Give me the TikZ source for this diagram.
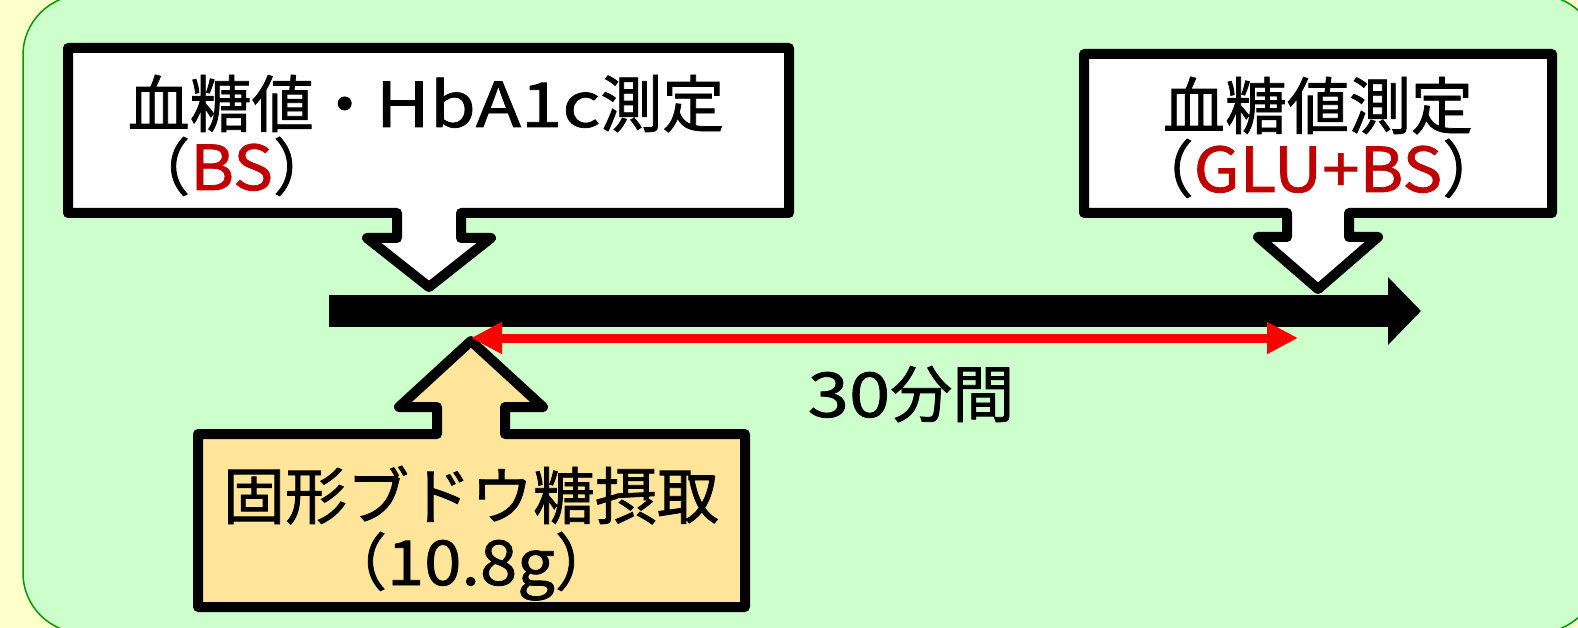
\documentclass[tikz,border=0pt]{standalone}
\usepackage{fontspec}
\setmainfont{Noto Sans CJK JP}[FakeBold=1.2]
\newfontfamily\latw{Noto Sans CJK JP}[FakeBold=1.2, FakeStretch=1.08]
\newfontfamily\latww{Noto Sans CJK JP}[FakeBold=1.2, FakeStretch=1.2]
\usetikzlibrary{arrows.meta}
\definecolor{bgyellow}{RGB}{255,255,204}
\definecolor{bggreen}{RGB}{204,255,204}
\definecolor{edgegreen}{RGB}{0,153,0}
\definecolor{boxyellow}{RGB}{255,229,153}
\definecolor{txtred}{RGB}{192,0,0}
\definecolor{arrred}{RGB}{255,0,0}
\tikzset{
  callout/.style={draw=black, line width=10pt, line join=round},
  bigtext/.style={font=\fontsize{62}{66}\selectfont, inner sep=0pt},
}
\begin{document}
\begin{tikzpicture}[x=1pt,y=-1pt]
\useasboundingbox (0,0) rectangle (1578,628);
\clip (0,0) rectangle (1578,628);
\fill[bgyellow] (0,0) rectangle (1578,628);
\draw[fill=bggreen, draw=edgegreen, line width=1.5pt, rounded corners=60pt] (23,-5) rectangle (1598,633);

% timeline
\coordinate (tl0) at (329,311);
\coordinate (tl1) at (1421,311);
\draw[line width=32pt, -{Triangle[length=33pt,width=66pt]}] (tl0) -- (tl1);

% left callout
\draw[callout, fill=white] (68,48) -- (789,48) -- (789,213) -- (461,213) -- (461,238) -- (491,238)
  -- (429,287) -- (367,238) -- (397,238) -- (397,213) -- (68,213) -- cycle;
% right callout
\draw[callout, fill=white] (1084,54) -- (1552,54) -- (1552,213) -- (1349,213) -- (1349,237) -- (1378,237)
  -- (1318,289) -- (1258,237) -- (1287,237) -- (1287,213) -- (1084,213) -- cycle;
% bottom callout
\draw[callout, fill=boxyellow] (198,434) -- (437,434) -- (437,407) -- (399,407) -- (471,341)
  -- (543,407) -- (505,407) -- (505,434) -- (745,434) -- (745,607) -- (198,607) -- cycle;

% texts
\node[bigtext, anchor=base] (t1a) at (426,127) {血糖値・{\latww HbA1c}測定};
\node[bigtext, anchor=base west] (t1b) at (128,190) {（\textcolor{txtred}{\latw BS}）};
\node[bigtext, anchor=base] (t2a) at (1318,129) {血糖値測定};
\node[bigtext, anchor=base] (t2b) at (1318,192) {（\textcolor{txtred}{\latw GLU+BS}）};
\node[bigtext, anchor=base] (t3a) at (471,519) {固形ブドウ糖摂取};
\node[bigtext, anchor=base] (t3b) at (471,585) {（{\latw 10.8g}）};
\node[bigtext, anchor=base] (t4) at (911,417) {{\latww 30}分間};

% red double arrow
\coordinate (r0) at (471,338);
\coordinate (r1) at (1298,338);
\draw[arrred, line width=9pt, {Triangle[length=31pt,width=30pt]}-{Triangle[length=31pt,width=30pt]}] (r0) -- (r1);
\end{tikzpicture}
\end{document}
